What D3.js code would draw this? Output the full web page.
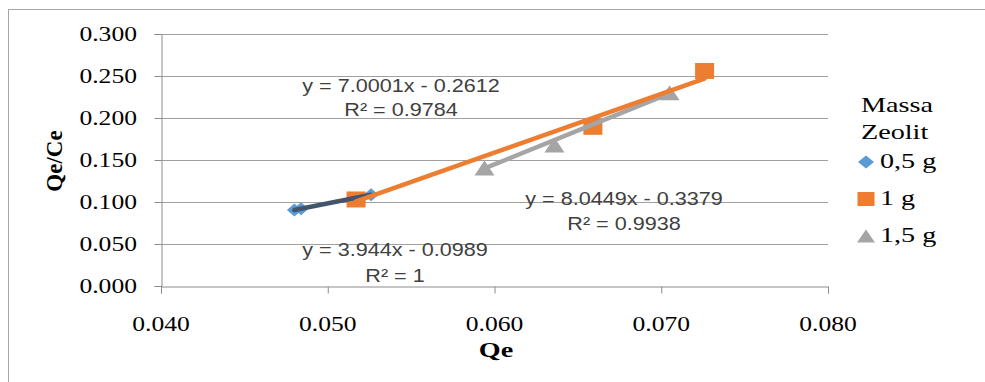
<!DOCTYPE html>
<html>
<head>
<meta charset="utf-8">
<script src="https://cdn.jsdelivr.net/npm/d3@7"></script>
<style>
  body { margin: 0; background: #fff; }
  svg { display: block; }
</style>
</head>
<body>
<svg id="chart" width="985" height="382"></svg>
<script>
// series values (Qe, Qe/Ce)
const seriesNames = ["0,5 g", "1 g", "1,5 g"];
const qe05 = [0.0480, 0.0484, 0.0526];
const qc05 = [0.0904, 0.0920, 0.1086];
const qe1 = [0.0517, 0.0659, 0.0726];
const qc1 = [0.1030, 0.1895, 0.2560];
const qe15 = [0.0594, 0.0636, 0.0705];
const qc15 = [0.1405, 0.1680, 0.2300];
// linear trendlines
const slopes = [3.944, 7.0001, 8.0449];
const intercepts = [-0.0989, -0.2612, -0.3379];
const r2 = ["1", "0.9784", "0.9938"];
// ticks
const xTicks = [0.040, 0.050, 0.060, 0.070, 0.080];
const yTicks = [0.000, 0.050, 0.100, 0.150, 0.200, 0.250, 0.300];

const colors = ["#5B9BD5", "#ED7D31", "#A5A5A5"];
const trendColors = ["#44546A", "#ED7D31", "#A5A5A5"];
const shapes = ["diamond", "square", "triangle"];
const sx = 1.28; // the picture is stretched sideways

const svg = d3.select("#chart");
const x = d3.scaleLinear().domain([0.04, 0.08]).range([161, 828]);
const y = d3.scaleLinear().domain([0, 0.3]).range([286, 34]);

// chart area border
svg.append("rect")
  .attr("x", 8.5).attr("y", 9.5)
  .attr("width", 1100).attr("height", 500)
  .attr("fill", "none").attr("stroke", "#A6A6A6");

function label(gx, gy, txt, opts) {
  const g = svg.append("g").attr("transform", "translate(" + gx + "," + gy + ")" + (opts.rotate ? " rotate(-90)" : ""));
  const t = g.append("text")
    .attr("transform", opts.rotate ? "scale(1,1)" : "scale(" + (opts.sx || sx) + ",1)")
    .attr("text-anchor", opts.anchor || "middle")
    .attr("font-family", opts.family || "'Liberation Serif', serif")
    .attr("font-size", opts.size || 20)
    .attr("font-weight", opts.weight || "normal")
    .attr("fill", opts.fill || "#000");
  return t.text(txt);
}

// gridlines
svg.append("g").selectAll("line").data(yTicks.slice(1)).join("line")
  .attr("x1", x(0.04)).attr("x2", x(0.08))
  .attr("y1", d => Math.round(y(d)) + 0.5).attr("y2", d => Math.round(y(d)) + 0.5)
  .attr("stroke", "#A0A0A0").attr("stroke-width", 1);

// axes
const xAxis = svg.append("g")
  .attr("transform", "translate(0," + (Math.round(y(0)) + 0.5) + ")")
  .call(d3.axisBottom(x).tickValues(xTicks).tickSize(7).tickFormat(""));
const yAxis = svg.append("g")
  .attr("transform", "translate(" + (Math.round(x(0.04)) + 0.5) + ",0)")
  .call(d3.axisLeft(y).tickValues(yTicks).tickSize(7).tickFormat(""));
[xAxis, yAxis].forEach(a => {
  a.select(".domain").attr("stroke", "#8C8C8C");
  a.selectAll(".tick line").attr("stroke", "#8C8C8C");
});
// axis line extends below origin like Excel
svg.append("line")
  .attr("x1", Math.round(x(0.04)) + 0.5).attr("x2", Math.round(x(0.04)) + 0.5)
  .attr("y1", y(0)).attr("y2", y(0) + 7).attr("stroke", "#8C8C8C");

const fmt = d3.format(".3f");
xTicks.forEach(v => label(x(v), 331, fmt(v), {}));
yTicks.forEach(v => label(137, y(v) + 7, fmt(v), { anchor: "end" }));

label(496, 357, "Qe", { weight: "bold", size: 22 });
label(62, 161, "Qe/Ce", { weight: "bold", size: 23, rotate: true });

// marker paths centred at 0,0
function shapePath(kind, w, h) {
  const p = d3.path();
  if (kind === "diamond") {
    p.moveTo(0, -h / 2); p.lineTo(w / 2, 0); p.lineTo(0, h / 2); p.lineTo(-w / 2, 0);
  } else if (kind === "square") {
    p.rect(-w / 2, -h / 2, w, h);
  } else {
    p.moveTo(0, -h / 2); p.lineTo(w / 2, h / 2); p.lineTo(-w / 2, h / 2);
  }
  p.closePath();
  return p.toString();
}
const markerSize = [[15, 13], [19, 16], [20, 15]];

const series = [
  { xs: qe05, ys: qc05 },
  { xs: qe1, ys: qc1 },
  { xs: qe15, ys: qc15 }
];

series.forEach((s, i) => {
  const pts = s.xs.map((v, j) => [v, s.ys[j]]);
  svg.append("g").selectAll("path").data(pts).join("path")
    .attr("transform", d => "translate(" + x(d[0]) + "," + y(d[1]) + ")")
    .attr("d", shapePath(shapes[i], markerSize[i][0], markerSize[i][1]))
    .attr("fill", colors[i]);
});

// trendlines
const line = d3.line().x(d => x(d[0])).y(d => y(d[1]));
[2, 0, 1].forEach(i => {
  const ext = d3.extent(series[i].xs);
  const pts = ext.map(v => [v, slopes[i] * v + intercepts[i]]);
  svg.append("path")
    .attr("d", line(pts))
    .attr("fill", "none")
    .attr("stroke", trendColors[i])
    .attr("stroke-width", 4.5)
    .attr("stroke-linecap", "round");
});

// equation labels
const eqPos = [[395, 256, 282], [401, 92, 116], [624, 205, 230]];
const sans = "'Liberation Sans', Arial, sans-serif";
slopes.forEach((m, i) => {
  const eq = "y = " + m + "x - " + Math.abs(intercepts[i]).toFixed(4);
  label(eqPos[i][0], eqPos[i][1], eq, { family: sans, size: 18, fill: "#404040", sx: 1.2 });
  label(eqPos[i][0], eqPos[i][2], "R² = " + r2[i], { family: sans, size: 18, fill: "#404040", sx: 1.2 });
});

// legend
label(861, 112, "Massa", { anchor: "start", size: 22 });
label(861, 139, "Zeolit", { anchor: "start", size: 22 });
const legY = [162, 199, 236];
const legSize = [[16, 13], [17, 14], [18, 13]];
seriesNames.forEach((n, i) => {
  svg.append("path")
    .attr("transform", "translate(866," + legY[i] + ")")
    .attr("d", shapePath(shapes[i], legSize[i][0], legSize[i][1]))
    .attr("fill", colors[i]);
  label(880, legY[i] + 6, n, { anchor: "start", size: 22 });
});
</script>
</body>
</html>
